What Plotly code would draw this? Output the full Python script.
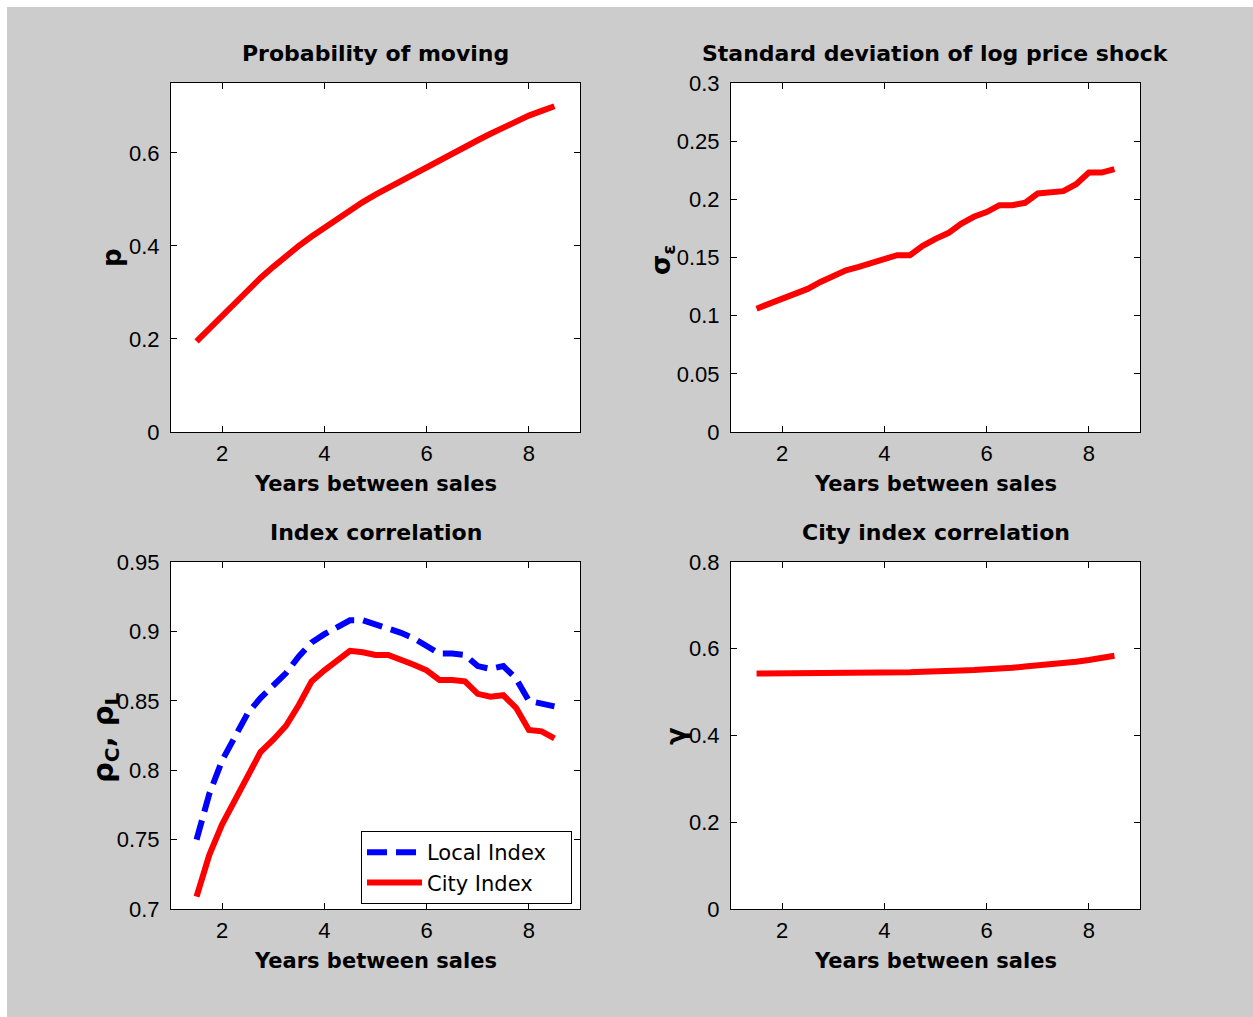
import plotly.graph_objects as go

years = [1.5, 1.75, 2.0, 2.25, 2.5, 2.75, 3.0, 3.25, 3.5, 3.75, 4.0, 4.25, 4.5, 4.75,
         5.0, 5.25, 5.5, 5.75, 6.0, 6.25, 6.5, 6.75, 7.0, 7.25, 7.5, 7.75, 8.0, 8.25, 8.5]

prob_moving = [0.195, 0.222, 0.251, 0.280, 0.306, 0.331, 0.355, 0.379, 0.400, 0.420, 0.439,
               0.458, 0.477, 0.494, 0.510, 0.525, 0.540, 0.554, 0.569, 0.584, 0.598, 0.612,
               0.627, 0.641, 0.655, 0.669, 0.680, 0.690, 0.700]

sigma_eps = [0.106, 0.110, 0.114, 0.118, 0.123, 0.129, 0.134, 0.139, 0.142, 0.145, 0.148,
             0.152, 0.152, 0.160, 0.166, 0.171, 0.179, 0.185, 0.189, 0.195, 0.195, 0.197,
             0.205, 0.206, 0.207, 0.213, 0.223, 0.223, 0.226]

local_index = [0.750, 0.783, 0.807, 0.825, 0.841, 0.852, 0.861, 0.870, 0.882, 0.892, 0.898,
               0.903, 0.908, 0.908, 0.905, 0.903, 0.899, 0.895, 0.890, 0.884, 0.884, 0.883,
               0.875, 0.873, 0.875, 0.866, 0.850, 0.848, 0.846]

city_index = [0.709, 0.739, 0.761, 0.779, 0.797, 0.813, 0.822, 0.832, 0.847, 0.864, 0.872,
              0.879, 0.886, 0.885, 0.883, 0.883, 0.880, 0.876, 0.872, 0.865, 0.865, 0.864,
              0.855, 0.853, 0.854, 0.845, 0.829, 0.828, 0.823]

gamma = [0.543, 0.543, 0.543, 0.543, 0.543, 0.543, 0.543, 0.543, 0.544, 0.545, 0.545,
         0.546, 0.546, 0.547, 0.547, 0.548, 0.550, 0.551, 0.552, 0.554, 0.556, 0.559,
         0.561, 0.563, 0.566, 0.570, 0.574, 0.579, 0.584]

titles = ["Probability of moving", "Standard deviation of log price shock",
          "Index correlation", "City index correlation"]
xlabel = "Years between sales"
ylabels = ["p", "σ<sub>ε</sub>", "ρ<sub>C</sub>, ρ<sub>L</sub>", "γ"]
legend_names = ["Local Index", "City Index"]

OFF = 7
W, H = 1253 - OFF, 1017 - OFF
GRAY = "#cccccc"
TICKFONT = dict(family="Liberation Sans, Arial, sans-serif", size=22, color="black")
TITLEFONT = dict(family="DejaVu Sans, sans-serif", size=22, color="black", weight="bold")
XLABFONT = dict(family="DejaVu Sans, sans-serif", size=21, color="black", weight="bold")
PAD = "\u00a0\u00a0\u00a0"

def px_x(v):
    # v: page pixel x
    return (v - OFF) / W

def px_y(v):
    # v: page pixel y
    return 1 - (v - OFF) / H

# axes boxes in page pixels (left, right, top, bottom)
boxes = [(171, 580, 83, 432), (731, 1140, 83, 432), (171, 580, 562, 909), (731, 1140, 562, 909)]
yranges = [[0, 0.75], [0, 0.3], [0.7, 0.95], [0, 0.8]]
ydticks = [0.2, 0.05, 0.05, 0.2]
ytick0 = [0, 0, 0.7, 0]

fig = go.Figure()

fig.add_trace(go.Scatter(x=years, y=prob_moving, mode="lines", line=dict(color="#ff0000", width=6),
                         showlegend=False, xaxis="x", yaxis="y"))
fig.add_trace(go.Scatter(x=years, y=sigma_eps, mode="lines", line=dict(color="#ff0000", width=6),
                         showlegend=False, xaxis="x2", yaxis="y2"))
fig.add_trace(go.Scatter(x=years, y=local_index, mode="lines", name=legend_names[0] + PAD,
                         line=dict(color="#0000ff", width=6, dash="20px,9px"),
                         xaxis="x3", yaxis="y3"))
fig.add_trace(go.Scatter(x=years, y=city_index, mode="lines", name=legend_names[1] + PAD,
                         line=dict(color="#ff0000", width=6), xaxis="x3", yaxis="y3"))
fig.add_trace(go.Scatter(x=years, y=gamma, mode="lines", line=dict(color="#ff0000", width=6),
                         showlegend=False, xaxis="x4", yaxis="y4"))

layout = dict(
    template="none",
    width=W, height=H, autosize=False,
    margin=dict(l=0, r=0, t=0, b=0, pad=0),
    paper_bgcolor=GRAY, plot_bgcolor="white",
    showlegend=True,
    legend=dict(x=px_x(361), y=px_y(831), xanchor="left", yanchor="top",
                bgcolor="white", bordercolor="black", borderwidth=1,
                font=dict(family="DejaVu Sans, sans-serif", size=21, color="black"),
                tracegroupgap=0, itemwidth=55),
)

annotations = []
for i, (l, r, t, b) in enumerate(boxes):
    sfx = "" if i == 0 else str(i + 1)
    layout["xaxis" + sfx] = dict(
        domain=[px_x(l), px_x(r)], range=[1, 9], tick0=0, dtick=2, automargin=False,
        anchor="y" + sfx, showline=True, mirror="ticks", linecolor="black", linewidth=1,
        ticks="inside", ticklen=6, tickcolor="black", showgrid=False, zeroline=False,
        tickfont=TICKFONT, ticklabelstandoff=2,
    )
    layout["yaxis" + sfx] = dict(
        domain=[px_y(b), px_y(t)], range=yranges[i], tick0=ytick0[i], dtick=ydticks[i],
        automargin=False,
        anchor="x" + sfx, showline=True, mirror="ticks", linecolor="black", linewidth=1,
        ticks="inside", ticklen=6, tickcolor="black", showgrid=False, zeroline=False,
        tickfont=TICKFONT, ticklabelstandoff=6,
    )
    cx = (l + r) / 2
    annotations.append(dict(text=titles[i], x=px_x(cx), y=px_y(t - 30), xref="paper", yref="paper",
                            showarrow=False, font=TITLEFONT, xanchor="center", yanchor="middle"))
    annotations.append(dict(text=xlabel, x=px_x(cx), y=px_y(b + 52), xref="paper", yref="paper",
                            showarrow=False, font=XLABFONT, xanchor="center", yanchor="middle"))

ylab_pos = [(112, 258), (662, 260), (105, 738), (676, 736)]
ylab_size = [26, 26, 29, 26]
for i, (x, y) in enumerate(ylab_pos):
    annotations.append(dict(text=ylabels[i], x=px_x(x), y=px_y(y), xref="paper", yref="paper",
                            showarrow=False, textangle=-90, xanchor="center", yanchor="middle",
                            font=dict(family="DejaVu Sans, sans-serif", size=ylab_size[i],
                                      color="black", weight="bold")))
layout["annotations"] = annotations

fig.update_layout(**layout)
fig.write_html(
    "out.html",
    config={"responsive": False},
    post_script="document.body.style.margin='%dpx 0 0 %dpx';"
                "document.body.style.overflow='hidden';" % (OFF, OFF),
)
